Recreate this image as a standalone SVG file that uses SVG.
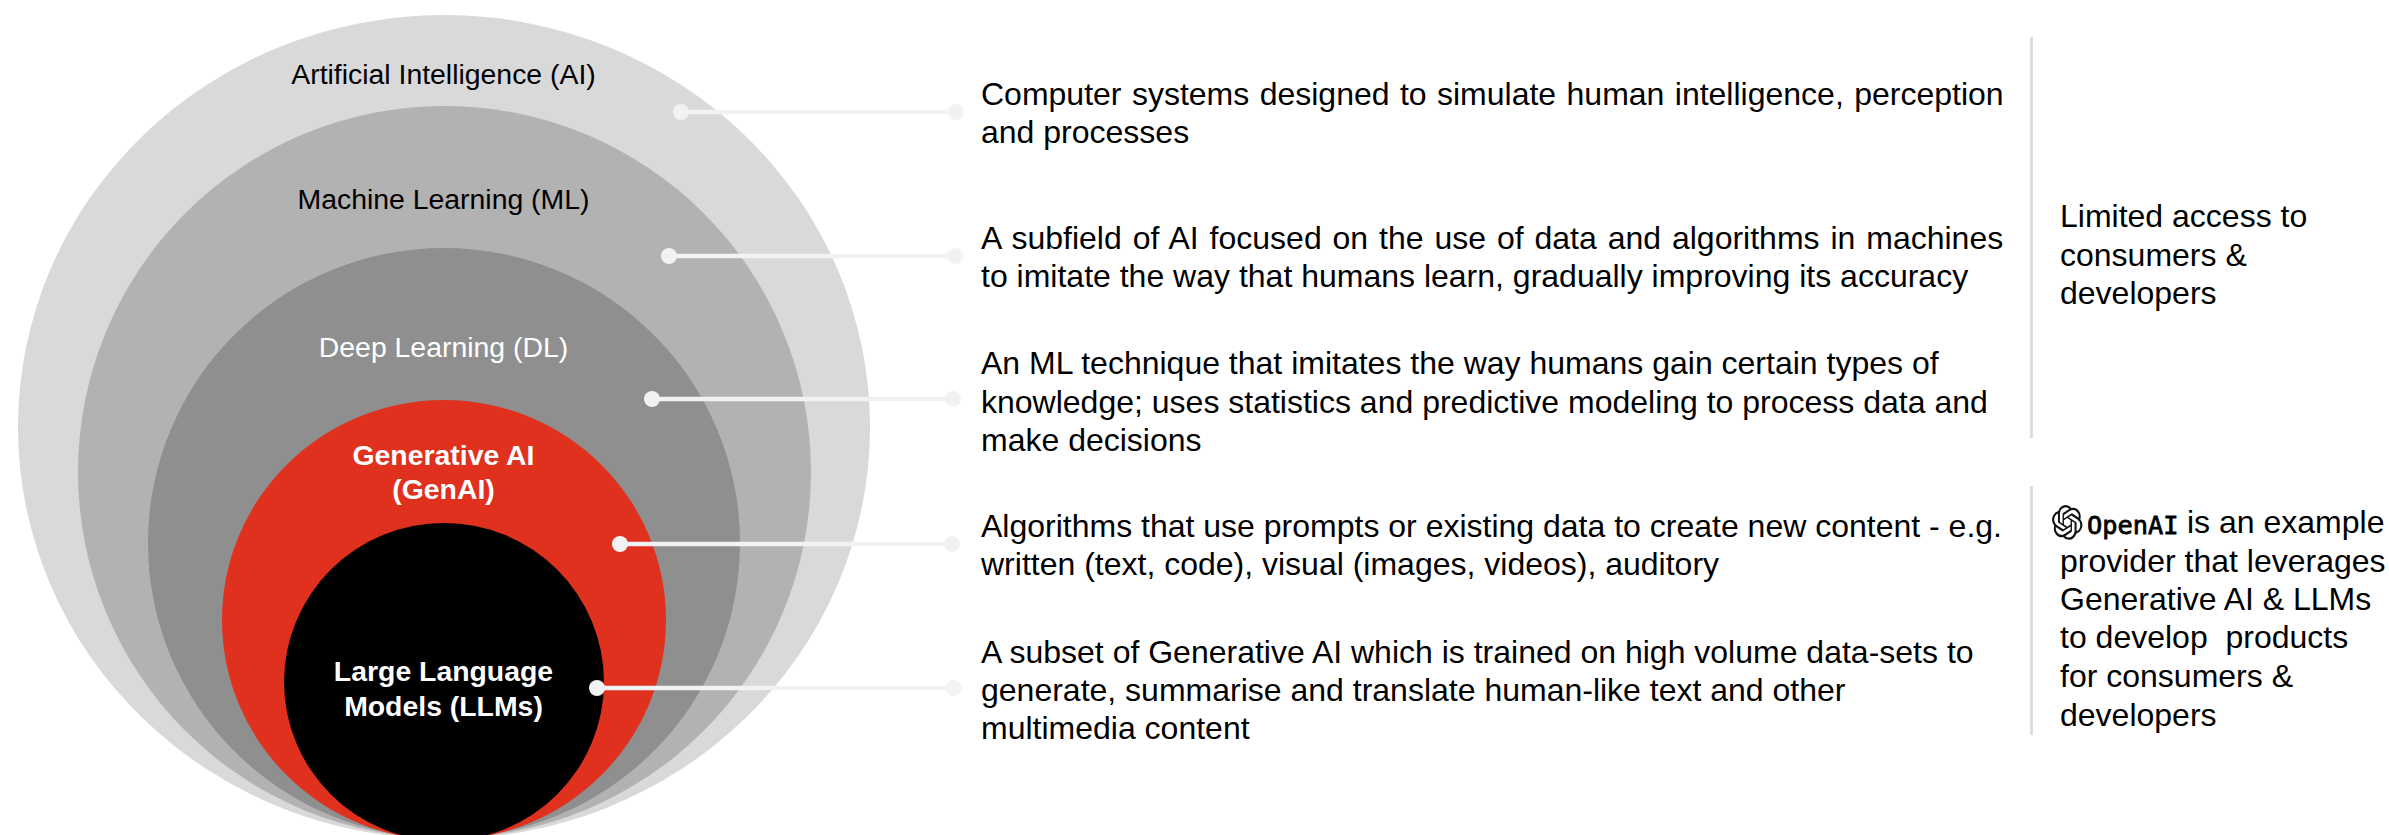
<svg xmlns="http://www.w3.org/2000/svg" width="2389" height="835" viewBox="0 0 2389 835">
<style>
text{font-family:"Liberation Sans",Arial,sans-serif;font-size:32px;fill:#000}
.l{font-size:28.4px;text-anchor:middle}
.b{font-weight:700;fill:#fff}
.w{fill:#fff}
.c{fill:none;stroke:#f2f2f2;stroke-width:4.5px}
.d{fill:#f2f2f2}
.r{fill:#dedede}
.m{font-family:"DejaVu Sans Mono",monospace;font-size:25.3px;stroke:#000;stroke-width:.8px}
</style>
<rect width="2389" height="835" fill="#fff"/>
<g id="node-ai"><ellipse cx="444" cy="427" rx="426" ry="412" fill="#d9d9d9"/><text class="l" x="443.5" y="83.500">Artificial Intelligence (AI)</text></g>
<g id="node-ml"><ellipse cx="444.500" cy="472" rx="366.500" ry="366" fill="#b2b2b2"/><text class="l" x="443.5" y="208.500">Machine Learning (ML)</text></g>
<g id="node-dl"><ellipse cx="444" cy="543" rx="296" ry="295" fill="#8f8f8f"/><text class="l w" x="443.5" y="356.500">Deep Learning (DL)</text></g>
<g id="node-genai"><ellipse cx="444" cy="620" rx="222" ry="220" fill="#e0301e"/><text class="l b" x="443.5" y="465">Generative AI</text><text class="l b" x="443.5" y="498.500">(GenAI)</text></g>
<g id="node-llm"><ellipse cx="444" cy="682" rx="160" ry="159" fill="#000"/><text class="l b" x="443.5" y="681">Large Language</text><text class="l b" x="443.5" y="715.500">Models (LLMs)</text></g>
<g id="connectors">
<path class="c" d="M681 112H956M669 256H955M652 399H953M620 544H952M597 688H954"/>
<circle class="d" cx="681" cy="112" r="8"/><circle class="d" cx="956" cy="112" r="8"/>
<circle class="d" cx="669" cy="256" r="8"/><circle class="d" cx="955" cy="256" r="8"/>
<circle class="d" cx="652" cy="399" r="8"/><circle class="d" cx="953" cy="399" r="8"/>
<circle class="d" cx="620" cy="544" r="8"/><circle class="d" cx="952" cy="544" r="8"/>
<circle class="d" cx="597" cy="688" r="8"/><circle class="d" cx="954" cy="688" r="8"/>
</g>
<g id="desc-ai"><text x="981" y="105" word-spacing="1.5">Computer systems designed to simulate human intelligence, perception</text><text x="981" y="143">and processes</text></g>
<g id="desc-ml"><text x="981" y="249" word-spacing="2">A subfield of AI focused on the use of data and algorithms in machines</text><text x="981" y="287">to imitate the way that humans learn, gradually improving its accuracy</text></g>
<g id="desc-dl"><text x="981" y="374">An ML technique that imitates the way humans gain certain types of</text><text x="981" y="412.500">knowledge; uses statistics and predictive modeling to process data and</text><text x="981" y="451">make decisions</text></g>
<g id="desc-genai"><text x="981" y="537">Algorithms that use prompts or existing data to create new content - e.g.</text><text x="981" y="575">written (text, code), visual (images, videos), auditory</text></g>
<g id="desc-llm"><text x="981" y="663">A subset of Generative AI which is trained on high volume data-sets to</text><text x="981" y="701">generate, summarise and translate human-like text and other</text><text x="981" y="739">multimedia content</text></g>
<g id="panel-access"><rect class="r" x="2030" y="37" width="3" height="401"/><text x="2060" y="227">Limited access to</text><text x="2060" y="266">consumers &amp;</text><text x="2060" y="304">developers</text></g>
<g id="panel-openai"><rect class="r" x="2030" y="486" width="3" height="249"/>
<path id="openai-logo" transform="translate(2052 505) scale(1.27 1.45)" fill="#111" d="M22.2819 9.8211a5.9847 5.9847 0 0 0-.5157-4.9108 6.0462 6.0462 0 0 0-6.5098-2.9A6.0651 6.0651 0 0 0 4.9807 4.1818a5.9847 5.9847 0 0 0-3.9977 2.9 6.0462 6.0462 0 0 0 .7427 7.0966 5.98 5.98 0 0 0 .511 4.9107 6.051 6.051 0 0 0 6.5146 2.9001A5.9847 5.9847 0 0 0 13.2599 24a6.0557 6.0557 0 0 0 5.7718-4.2058 5.9894 5.9894 0 0 0 3.9977-2.9001 6.0557 6.0557 0 0 0-.7475-7.0729zm-9.022 12.6081a4.4755 4.4755 0 0 1-2.8764-1.0408l.1419-.0804 4.7783-2.7582a.7948.7948 0 0 0 .3927-.6813v-6.7369l2.02 1.1686a.071.071 0 0 1 .038.052v5.5826a4.504 4.504 0 0 1-4.4945 4.4944zm-9.6607-4.1254a4.4708 4.4708 0 0 1-.5346-3.0137l.142.0852 4.783 2.7582a.7712.7712 0 0 0 .7806 0l5.8428-3.3685v2.3324a.0804.0804 0 0 1-.0332.0615L9.74 19.9502a4.4992 4.4992 0 0 1-6.1408-1.6464zM2.3408 7.8956a4.485 4.485 0 0 1 2.3655-1.9728V11.6a.7664.7664 0 0 0 .3879.6765l5.8144 3.3543-2.0201 1.1685a.0757.0757 0 0 1-.071 0l-4.8303-2.7865A4.504 4.504 0 0 1 2.3408 7.872zm16.5963 3.8558L13.1038 8.364 15.1192 7.2a.0757.0757 0 0 1 .071 0l4.8303 2.7913a4.4944 4.4944 0 0 1-.6765 8.1042v-5.6772a.79.79 0 0 0-.407-.667zm2.0107-3.0231l-.142-.0852-4.7735-2.7818a.7759.7759 0 0 0-.7854 0L9.409 9.2297V6.8974a.0662.0662 0 0 1 .0284-.0615l4.8303-2.7866a4.4992 4.4992 0 0 1 6.6802 4.66zM8.3065 12.863l-2.02-1.1638a.0804.0804 0 0 1-.038-.0567V6.0742a4.4992 4.4992 0 0 1 7.3757-3.4537l-.142.0805L8.704 5.459a.7948.7948 0 0 0-.3927.6813zm1.0976-2.3654l2.602-1.4998 2.6069 1.4998v2.9994l-2.5974 1.4997-2.6067-1.4997Z"/>
<text class="m" x="2087" y="534">OpenAI</text>
<text x="2187" y="533">is an example</text><text x="2060" y="572">provider that leverages</text><text x="2060" y="610">Generative AI &amp; LLMs</text><text x="2060" y="648" xml:space="preserve">to develop  products</text><text x="2060" y="687">for consumers &amp;</text><text x="2060" y="726">developers</text></g>
</svg>
